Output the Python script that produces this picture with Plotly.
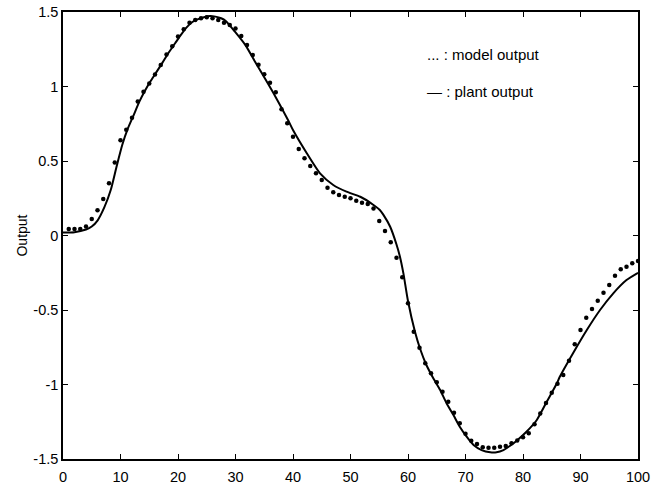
import plotly.graph_objects as go

# Model output, sampled once per time step
model_t = list(range(1, 101))
model_y = [
    0.044, 0.044, 0.044, 0.06, 0.11, 0.17, 0.245, 0.35, 0.49, 0.64,
    0.71, 0.79, 0.90, 0.965, 1.02, 1.08, 1.145, 1.215, 1.27, 1.335,
    1.385, 1.428, 1.446, 1.458, 1.464, 1.458, 1.446, 1.428, 1.413, 1.39,
    1.339, 1.279, 1.211, 1.146, 1.083, 1.026, 0.961, 0.847, 0.753, 0.663,
    0.58, 0.518, 0.466, 0.417, 0.372, 0.321, 0.29, 0.272, 0.26, 0.25,
    0.234, 0.22, 0.211, 0.182, 0.097, 0.03, -0.046, -0.149, -0.28, -0.455,
    -0.646, -0.753, -0.858, -0.925, -0.985, -1.048, -1.115, -1.19, -1.26, -1.33,
    -1.377, -1.399, -1.421, -1.424, -1.424, -1.417, -1.413, -1.395, -1.375, -1.354,
    -1.328, -1.267, -1.195, -1.124, -1.056, -0.995, -0.936, -0.84, -0.73, -0.634,
    -0.552, -0.493, -0.438, -0.384, -0.332, -0.27, -0.227, -0.209, -0.187, -0.171,
]

# Plant output (continuous response)
plant_t = [
    0, 2, 4, 5, 6, 7.2, 8.3, 9.3, 10.3, 11.3, 12.2, 13.3, 14.3, 15.3, 16.3,
    17.3, 18.3, 19.5, 20.5, 21.5, 22.5, 23.5, 24.5, 25.6, 26.5, 27.5, 28.3,
    29.9, 31.7, 33.4, 35.1, 36.9, 39.2, 40.0, 42.4, 44.7, 47.0, 49.3, 51.7,
    54.0, 55.1, 55.7, 56.9, 58.0, 58.6, 59.2, 60.0, 61.2, 62.1, 63.2, 64.4,
    65.6, 66.7, 67.9, 69.0, 70.2, 71.4, 72.8, 74.3, 75.4, 76.6, 77.7, 78.9,
    80.6, 82.4, 84.1, 85.9, 86.4, 88.7, 91.1, 93.4, 95.7, 98.0, 100.0,
]
plant_y = [
    0.02, 0.022, 0.04, 0.06, 0.1, 0.19, 0.305, 0.46, 0.607, 0.72, 0.8, 0.9,
    0.975, 1.04, 1.1, 1.16, 1.223, 1.29, 1.346, 1.397, 1.433, 1.452, 1.465,
    1.473, 1.469, 1.458, 1.44, 1.368, 1.279, 1.166, 1.055, 0.935, 0.77,
    0.708, 0.552, 0.417, 0.339, 0.294, 0.26, 0.205, 0.171, 0.14, 0.059,
    -0.06, -0.142, -0.254, -0.44, -0.645, -0.76, -0.869, -0.958, -1.037,
    -1.126, -1.205, -1.283, -1.35, -1.406, -1.44, -1.455, -1.455, -1.44,
    -1.413, -1.377, -1.317, -1.238, -1.118, -0.992, -0.948, -0.79, -0.634,
    -0.5, -0.388, -0.299, -0.25,
]

x_ticks = [0, 10, 20, 30, 40, 50, 60, 70, 80, 90, 100]
y_ticks = [-1.5, -1, -0.5, 0, 0.5, 1, 1.5]
y_tick_text = ["-1.5", "-1", "-0.5", "0", "0.5", "1", "1.5"]

legend_lines = ["... : model output", "\u2014 : plant output"]

font_family = "Liberation Sans, Arial, sans-serif"

fig = go.Figure()
fig.add_trace(go.Scatter(
    x=plant_t, y=plant_y, mode="lines",
    line=dict(color="black", width=2, shape="spline", smoothing=0.6),
    showlegend=False,
))
fig.add_trace(go.Scatter(
    x=model_t, y=model_y, mode="markers",
    marker=dict(color="black", size=4.5),
    showlegend=False,
))

# Key text in the upper right of the plot area
fig.add_annotation(x=0.63, y=0.904, xref="paper", yref="paper",
                   text=legend_lines[0], showarrow=False,
                   xanchor="left", yanchor="middle",
                   font=dict(size=15, color="black", family=font_family))
fig.add_annotation(x=0.63, y=0.823, xref="paper", yref="paper",
                   text=legend_lines[1], showarrow=False,
                   xanchor="left", yanchor="middle",
                   font=dict(size=15, color="black", family=font_family))

axis_common = dict(
    showgrid=False, zeroline=False, showline=True, linecolor="black",
    linewidth=1.5, mirror="ticks", ticks="inside", ticklen=5,
    tickwidth=1.2, tickcolor="black", automargin=False,
    tickfont=dict(size=14.5, color="black", family=font_family),
)

fig.update_xaxes(range=[0, 100], tickvals=x_ticks, ticklabelstandoff=4,
                 **axis_common)
fig.update_yaxes(range=[-1.5, 1.5], tickvals=y_ticks, ticktext=y_tick_text,
                 title=dict(text="Output", standoff=2,
                            font=dict(size=14, color="black", family=font_family)),
                 **axis_common)

fig.update_layout(
    width=660, height=487,
    margin=dict(l=63, r=22, t=12, b=28),
    paper_bgcolor="white", plot_bgcolor="white",
    font=dict(family=font_family, color="black"),
)

fig.write_html("out.html")
